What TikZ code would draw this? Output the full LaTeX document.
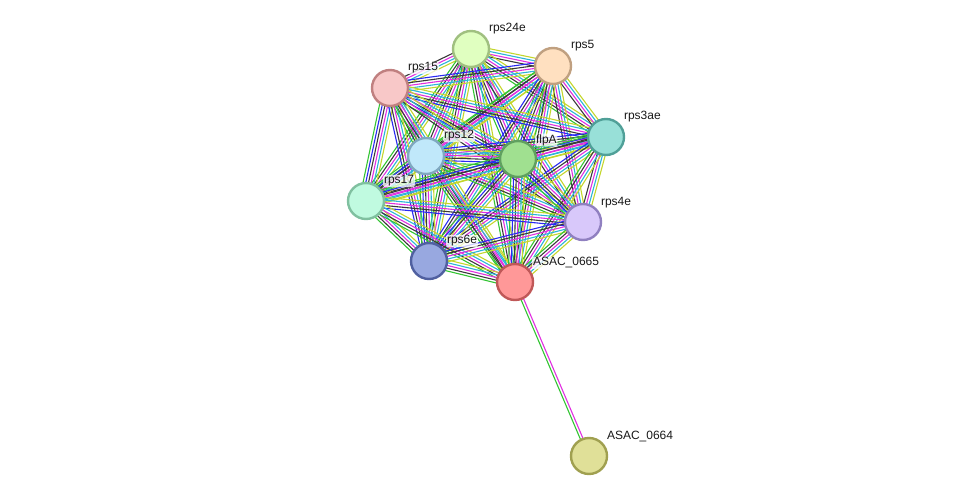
\documentclass[tikz,border=0pt]{standalone}
\usepackage{fontspec}
\setmainfont{Liberation Sans}
\usetikzlibrary{calc,backgrounds}
\definecolor{nb}{HTML}{33C433}
\definecolor{co}{HTML}{2A2AF0}
\definecolor{cx}{HTML}{3A3A3A}
\definecolor{ex}{HTML}{E030E0}
\definecolor{db}{HTML}{2CB4D8}
\definecolor{tm}{HTML}{C4D62C}
\newcommand\stredge[3]{%
  \foreach \cc [count=\k] in {#3} {\xdef\nedges{\k}}%
  \foreach \cc [count=\k] in {#3} {%
    \pgfmathsetmacro\off{(\k-(\nedges+1)/2)*2.7}%
    \draw[\cc, line width=1.1pt] let \p1=($(#2)-(#1)$), \n1={atan2(\y1,\x1)} in
      ([shift={(\n1+90:\off pt)}]#1.center) -- ([shift={(\n1+90:\off pt)}]#2.center);
  }}
\begin{document}
\begin{tikzpicture}[x=1pt,y=-1pt,
  prot/.style={circle, minimum size=36pt, inner sep=0pt, line width=2.4pt},
  lbl/.style={anchor=west, font=\fontsize{12pt}{14pt}\selectfont, text=black!90, fill=white, fill opacity=0.75, text opacity=1, inner sep=0.8pt, rounded corners=2pt}]
\useasboundingbox (0,0) rectangle (976,502);
\node[prot, fill={rgb,255:red,224;green,255;blue,192}, draw={rgb,255:red,160;green,192;blue,128}] (a) at (471,49) {};
\node[prot, fill={rgb,255:red,255;green,224;blue,192}, draw={rgb,255:red,192;green,160;blue,128}] (b) at (553,66) {};
\node[prot, fill={rgb,255:red,248;green,200;blue,200}, draw={rgb,255:red,192;green,128;blue,128}] (c) at (390,88) {};
\node[prot, fill={rgb,255:red,152;green,224;blue,216}, draw={rgb,255:red,80;green,160;blue,152}] (d) at (606,137) {};
\node[prot, fill={rgb,255:red,192;green,232;blue,250}, draw={rgb,255:red,128;green,168;blue,192}] (e) at (426,156) {};
\node[prot, fill={rgb,255:red,160;green,224;blue,144}, draw={rgb,255:red,96;green,160;blue,96}] (f) at (518,159) {};
\node[prot, fill={rgb,255:red,192;green,250;blue,224}, draw={rgb,255:red,128;green,192;blue,160}] (g) at (366,201) {};
\node[prot, fill={rgb,255:red,216;green,200;blue,250}, draw={rgb,255:red,144;green,128;blue,192}] (h) at (583,222) {};
\node[prot, fill={rgb,255:red,152;green,168;blue,224}, draw={rgb,255:red,80;green,96;blue,160}] (i) at (429,261) {};
\node[prot, fill={rgb,255:red,255;green,152;blue,152}, draw={rgb,255:red,192;green,88;blue,88}] (j) at (515,282) {};
\node[prot, fill={rgb,255:red,224;green,224;blue,152}, draw={rgb,255:red,160;green,160;blue,80}] (k) at (589,456) {};
\begin{pgfonlayer}{background}
\stredge{a}{b}{cx,ex,db,tm}
\stredge{a}{c}{cx,ex,db,tm}
\stredge{a}{d}{nb,cx,ex,db,tm}
\stredge{a}{e}{nb,cx,ex,db,tm}
\stredge{a}{f}{nb,co,cx,ex,db,tm}
\stredge{a}{g}{nb,cx,ex,db,tm}
\stredge{a}{h}{cx,ex,db,tm}
\stredge{a}{i}{nb,cx,ex,db,tm}
\stredge{a}{j}{nb,cx,ex,db,tm}
\stredge{b}{c}{co,cx,ex,db,tm}
\stredge{b}{d}{cx,ex,db,tm}
\stredge{b}{e}{nb,cx,ex,db,tm}
\stredge{b}{f}{nb,co,cx,ex,db,tm}
\stredge{b}{g}{nb,cx,ex,db,tm}
\stredge{b}{h}{cx,ex,db,tm}
\stredge{b}{i}{co,cx,ex,db,tm}
\stredge{b}{j}{nb,cx,ex,db,tm}
\stredge{c}{d}{co,cx,ex,db,tm}
\stredge{c}{e}{nb,cx,ex,db,tm}
\stredge{c}{f}{nb,co,cx,ex,db,tm}
\stredge{c}{g}{nb,co,cx,ex,db,tm}
\stredge{c}{h}{cx,ex,db,tm}
\stredge{c}{i}{co,cx,ex,db,tm}
\stredge{c}{j}{nb,cx,ex,db,tm}
\stredge{d}{e}{co,cx,ex,db,tm}
\stredge{d}{f}{nb,co,cx,ex,db,tm}
\stredge{d}{g}{nb,cx,ex,db,tm}
\stredge{d}{h}{cx,ex,db,tm}
\stredge{d}{i}{co,cx,ex,db,tm}
\stredge{d}{j}{nb,cx,ex,db,tm}
\stredge{e}{f}{nb,co,cx,ex,db,tm}
\stredge{e}{g}{nb,co,cx,ex,db,tm}
\stredge{e}{h}{nb,cx,ex,db,tm}
\stredge{e}{i}{nb,co,cx,ex,db,tm}
\stredge{e}{j}{nb,cx,ex,db,tm}
\stredge{f}{g}{nb,co,cx,ex,db,tm}
\stredge{f}{h}{nb,co,cx,ex,db,tm}
\stredge{f}{i}{nb,co,cx,ex,db,tm}
\stredge{f}{j}{nb,co,cx,ex,db,tm}
\stredge{g}{h}{co,cx,ex,db,tm}
\stredge{g}{i}{nb,cx,ex,db,tm}
\stredge{g}{j}{nb,cx,ex,db,tm}
\stredge{h}{i}{co,cx,ex,db,tm}
\stredge{h}{j}{nb,cx,ex,db,tm}
\stredge{i}{j}{nb,cx,ex,db,tm}
\stredge{j}{k}{nb,ex}
\end{pgfonlayer}
\node[lbl] (la) at ($(a)+(17,-20)$) {rps24e};
\node[lbl] (lb) at ($(b)+(17,-20)$) {rps5};
\node[lbl] (lc) at ($(c)+(17,-20)$) {rps15};
\node[lbl] (ld) at ($(d)+(17,-20)$) {rps3ae};
\node[lbl] (le) at ($(e)+(17,-20)$) {rps12};
\node[lbl] (lf) at ($(f)+(17,-19)$) {flpA};
\node[lbl] (lg) at ($(g)+(17,-20)$) {rps17};
\node[lbl] (lh) at ($(h)+(17,-19)$) {rps4e};
\node[lbl] (li) at ($(i)+(17,-20)$) {rps6e};
\node[lbl] (lj) at ($(j)+(17,-19)$) {ASAC\_0665};
\node[lbl] (lk) at ($(k)+(17,-19)$) {ASAC\_0664};
\end{tikzpicture}
\end{document}
